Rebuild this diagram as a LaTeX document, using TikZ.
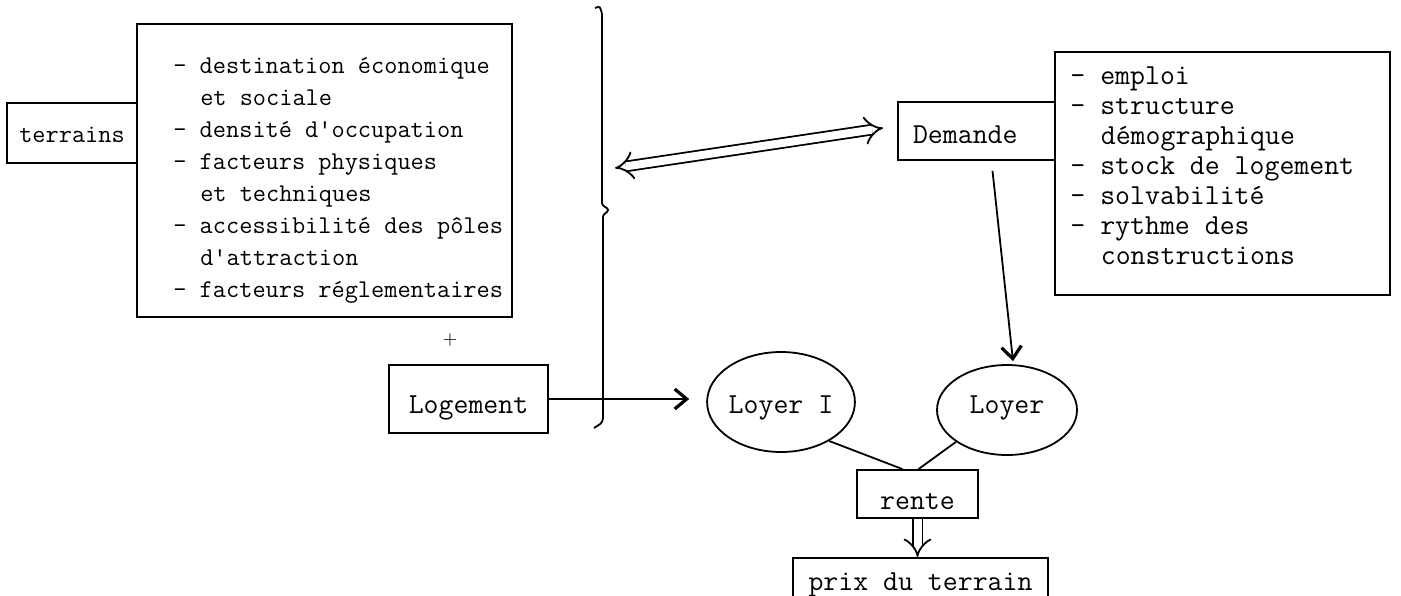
\documentclass[tikz,border=0pt]{standalone}
\usetikzlibrary{arrows.meta,shapes.geometric}
\begin{document}
\begin{tikzpicture}[x=0.5pt,y=-0.5pt,
  ln/.style={line width=0.9pt},
  box/.style={draw,ln,inner sep=0pt,text depth=0pt},
  big/.style={font=\ttfamily\fontsize{14.5}{15}\selectfont},
  small/.style={font=\ttfamily\fontsize{12.8}{16}\selectfont},
  oval/.style={draw,ln,ellipse,inner sep=0pt,text depth=0pt,big},
  arr/.style={ln,-{Straight Barb[length=6pt,width=10pt,line width=1.6pt]}},
  dbl/.style={ln,double,double distance=4pt}]
\useasboundingbox (0,0) rectangle (1401,595);
\newcommand{\ind}{\hspace*{1.05em}}
% left group
\node[box,small,minimum width=65pt,minimum height=30pt,text height=9pt] (ter) at (72,133) {terrains};
\node[box,minimum width=187.5pt,minimum height=146.5pt] (fac) at (324.5,170.5) {};
\node[small,align=left,anchor=west,inner sep=0pt] (factxt) at (173,180)
 {- destination économique\\
  \ind et sociale\\
  - densité d'occupation\\
  - facteurs physiques\\
  \ind et techniques\\
  - accessibilité des pôles\\
  \ind d'attraction\\
  - facteurs réglementaires};
\node[font=\fontsize{9}{9}\selectfont,inner sep=0pt] (plus) at (450,340) {+};
\node[box,big,minimum width=79.5pt,minimum height=34pt,text height=14pt] (log) at (468.5,399) {Logement};
% brace
\draw[ln] (595,8) .. controls (600,6) .. (602,14) -- (602,203)
  .. controls (602,207) and (608,207) .. (608,210)
  .. controls (608,213) and (603,213) .. (603,217) -- (603,418)
  .. controls (603,424) and (598,425) .. (594,428);
% right group
\node[box,big,minimum width=167.5pt,minimum height=121.5pt] (dfac) at (1222.5,173.5) {};
\node[big,align=left,anchor=west,inner sep=0pt] (dtxt) at (1070,166)
 {- emploi\\
  - structure\\
  \ind démographique\\
  - stock de logement\\
  - solvabilité\\
  - rythme des\\
  \ind constructions};
\node[box,big,minimum height=29pt,text height=12pt,text width=63.5pt,align=left,inner xsep=7.5pt] (dem) at (976.5,131) {Demande};
% ellipses and result
\node[oval,minimum width=71pt,minimum height=50pt,text height=11pt] (ly1) at (781,402) {Loyer I};
\node[oval,minimum width=70pt,minimum height=45pt,text height=3pt] (loy) at (1007,410) {Loyer};
\node[box,big,minimum width=60.5pt,minimum height=24pt,text height=15pt] (ren) at (917.5,494) {rente};
\node[box,big,minimum width=127.5pt,minimum height=32pt,text height=0pt] (prix) at (920.5,590) {prix du terrain};
% connectors
\coordinate (bl) at (615,168);
\coordinate (dr) at (883,128);
\draw[dbl,{Implies[scale=1.4]}-{Implies[scale=1.4]}] (bl) -- (dr);
\draw[arr,shorten >=8.5pt] (log.east) -- (log.east -| ly1.west);
\draw[arr] ([xshift=8pt,yshift=-5pt]dem.south) -- ([xshift=3pt,yshift=1.5pt]loy.north);
\draw[ln] (ly1.-39) -- ([xshift=-7.5pt]ren.north);
\draw[ln] (loy.-148) -- ([xshift=0.5pt]ren.north);
\draw[dbl,-{Implies[scale=1.4]}] (ren.south) -- (ren.south |- prix.north);
\end{tikzpicture}
\end{document}
